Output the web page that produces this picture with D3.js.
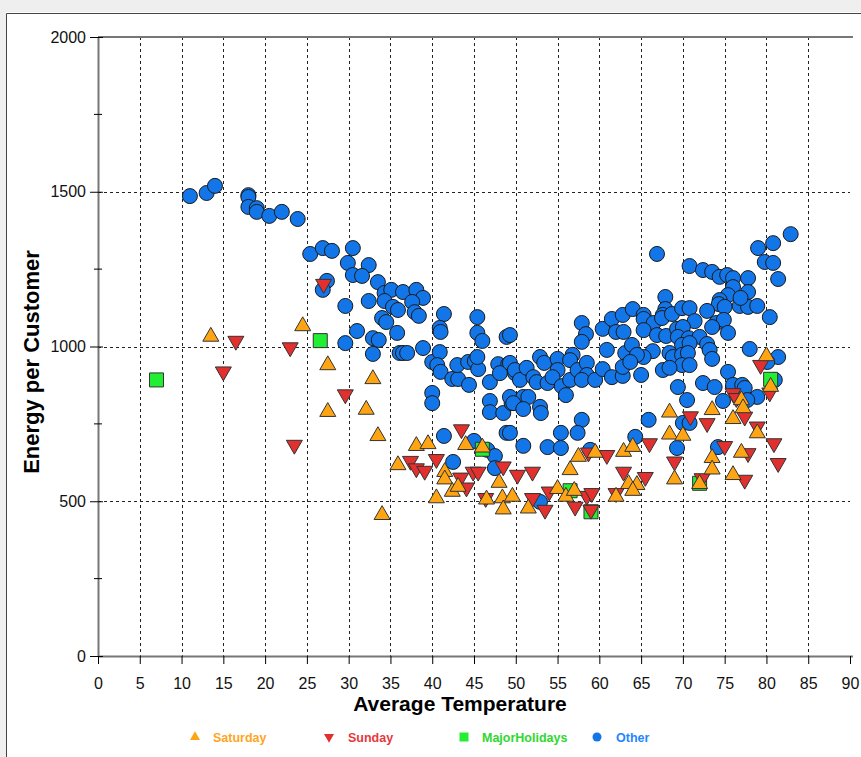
<!DOCTYPE html>
<html>
<head>
<meta charset="utf-8">
<script src="https://cdn.jsdelivr.net/npm/d3@7"></script>
<style>
  html, body { margin: 0; padding: 0; background: #fff; }
  svg { display: block; }
</style>
</head>
<body>
<svg id="chart" width="861" height="757"></svg>
<script>
// ---------------- DATA ----------------
const xTicks = [0,5,10,15,20,25,30,35,40,45,50,55,60,65,70,75,80,85,90];
const yTicks = [0,500,1000,1500,2000];
const yMinorTicks = [250,750,1250,1750];

const satTemp = [13.5,24.5,27.5,32.9,27.5,32.1,33.5,34.0,38.1,39.5,35.9,44.0,46.0,41.5,41.5,42.4,43.1,40.5,48.0,46.5,48.4,48.5,49.6,51.5,56.5,57.5,59.5,55.0,56.0,57.0,62.0,62.9,64.0,63.5,64.5,64.0,68.4,73.5,68.4,70.0,77.0,77.2,76.0,78.9,80.0,80.5,73.5,73.5,69.0,72.0,76.0,77.0];
const satEnergy = [1032,1066,940,895,789,796,711,456,679,685,617,682,674,595,571,531,547,510,560,506,510,474,515,477,601,644,657,540,515,534,515,660,676,556,553,534,787,795,716,712,827,801,766,720,969,870,640,603,571,556,585,657];

const sunTemp = [16.5,23.0,15.0,27.0,29.6,23.5,43.5,37.4,38.1,39.1,40.5,43.4,44.1,44.9,45.5,48.5,50.2,46.4,52.0,60.9,58.7,62.9,54.0,52.0,53.5,57.1,58.5,59.0,59.1,62.0,70.9,72.9,66.0,69.0,65.5,72.3,75.0,77.4,76.0,76.4,77.4,78.9,80.9,81.4,79.3,80.4,77.8];
const sunEnergy = [1018,997,919,1202,845,682,732,630,606,598,636,576,544,595,595,612,585,510,595,649,657,595,531,510,472,482,517,472,526,526,774,752,687,628,578,574,678,569,849,833,773,741,687,623,940,851,655];

const holTemp = [7.0,26.6,46.0,56.5,59.0,72.0,80.5];
const holEnergy = [892,1019,668,534,466,558,894];

const othTemp = [
  11.0,13.0,14.0,18.0,18.0,18.0,19.0,19.0,20.5,22.0,23.9,
  25.4,26.9,28.0,30.5,29.9,32.4,30.5,31.6,33.5,27.4,26.9,29.6,32.4,34.3,35.1,34.3,35.3,34.0,34.5,35.8,31.0,32.9,33.6,29.6,32.9,36.1,
  36.5,38.1,38.9,35.9,37.6,37.9,38.4,41.4,40.9,41.0,45.4,45.4,46.0,48.9,36.5,37.0,38.9,40.0,40.9,40.6,41.0,42.4,43.1,43.0,44.4,44.3,45.1,45.5,45.4,46.9,47.9,49.1,48.1,49.9,40.0,40.0,46.9,46.9,48.5,49.5,41.4,45.0,48.9,42.5,46.6,47.5,47.5,
  49.3,57.9,58.4,57.9,60.4,61.5,62.0,62.9,62.8,64.0,60.9,49.3,49.9,50.5,51.3,52.9,53.4,52.1,52.5,53.8,55.0,55.0,54.4,55.5,56.0,56.5,56.8,56.5,57.4,58.5,58.5,57.9,59.5,60.4,61.5,62.8,63.1,62.8,49.3,50.9,51.5,49.7,50.9,52.9,53.0,57.9,57.4,55.4,49.3,50.9,53.8,55.4,58.9,64.3,52.9,
  66.9,70.8,72.4,73.5,74.4,75.3,76.0,76.0,75.4,77.8,77.8,67.9,67.9,67.6,74.4,74.3,75.0,76.8,77.8,65.3,65.3,66.5,67.5,68.7,69.9,70.8,72.9,71.4,74.0,74.9,73.5,65.3,66.9,68.0,69.3,70.0,69.4,70.7,72.0,75.4,69.9,70.8,72.9,63.9,66.4,65.3,64.5,63.7,68.4,68.8,69.9,70.6,73.2,73.5,69.9,70.8,67.6,68.4,65.0,75.4,69.4,72.4,73.8,76.0,77.1,78.0,
  82.9,80.8,79.0,79.8,80.8,81.4,76.9,78.9,80.4,81.4,80.1,81.0,77.4,78.9,77.7,74.8,70.5,65.9,70.0,70.8,69.3,74.2
];
const othEnergy = [
  1486,1496,1519,1489,1483,1451,1447,1435,1422,1435,1412,
  1299,1318,1309,1318,1270,1263,1231,1228,1208,1212,1183,1131,1147,1173,1183,1147,1128,1092,1079,1044,1050,1027,1021,1011,976,979,
  1176,1183,1157,1118,1144,1111,1099,1105,1060,1047,1095,1044,1018,1031,979,979,995,950,982,940,918,895,895,940,876,950,953,927,966,885,943,943,914,914,850,817,824,788,785,817,711,695,721,627,666,646,607,
  1037,1076,1040,1015,1057,1089,1047,1047,1102,1121,989,947,924,892,931,966,947,901,885,882,960,924,901,872,843,892,973,956,924,947,908,892,892,927,901,905,979,934,837,837,837,817,798,805,785,763,721,721,721,679,675,672,666,708,498,
  1299,1260,1247,1241,1225,1231,1221,1192,1166,1221,1176,1160,1121,1102,1150,1137,1128,1131,1128,1102,1089,1076,1092,1105,1124,1124,1115,1082,1076,1086,1063,1053,1037,1034,1057,1063,1031,1027,1031,1044,1005,1011,1008,1005,985,966,973,950,979,966,973,979,989,960,940,940,924,931,908,918,869,882,869,876,876,992,
  1363,1334,1318,1273,1270,1218,1157,1131,1095,966,950,892,866,837,827,824,827,763,753,753,672,675
];

// ---------------- LAYOUT ----------------
const svg = d3.select("#chart");
const W = 861, H = 757;
const pLeft = 98, pRight = 850, pTop = 37, pBottom = 656;

const x = d3.scaleLinear().domain([0, 90]).range([pLeft, pRight]);
const y = d3.scaleLinear().domain([0, 2000]).range([pBottom, pTop]);

const COL = {
  sat: "#FFA514", sun: "#E2302E", hol: "#22EE33", oth: "#1276E8",
  satTxt: "#FFA51E", sunTxt: "#E6383C", holTxt: "#2FD82F", othTxt: "#1F86FF"
};
const numFont = "'Liberation Sans Narrow','Arial Narrow','Liberation Sans',Arial,sans-serif";
const boldFont = "'Liberation Sans',Arial,sans-serif";

// outer frame
svg.append("rect").attr("x",0).attr("y",0).attr("width",W).attr("height",12).attr("fill","#efefef");
svg.append("rect").attr("x",0).attr("y",0).attr("width",6).attr("height",H).attr("fill","#efefef");
svg.append("path").attr("d",`M6.5,${H} V13.5 H${W}`).attr("fill","none").attr("stroke","#444").attr("stroke-width",1);

// gridlines
const grid = svg.append("g");
grid.selectAll("line.vg").data(xTicks.filter(d => d > 0 && d < 90)).enter().append("line")
  .attr("x1", d => Math.round(x(d)) + 0.5).attr("x2", d => Math.round(x(d)) + 0.5)
  .attr("y1", pTop).attr("y2", pBottom)
  .attr("stroke", "#222").attr("stroke-width", 1).attr("stroke-dasharray", "3,3");
grid.selectAll("line.hg").data(yTicks.filter(d => d > 0 && d < 2000)).enter().append("line")
  .attr("x1", pLeft).attr("x2", pRight)
  .attr("y1", d => Math.round(y(d)) + 0.5).attr("y2", d => Math.round(y(d)) + 0.5)
  .attr("stroke", "#222").attr("stroke-width", 1).attr("stroke-dasharray", "3,3");

// top border line
svg.append("line").attr("x1", pLeft).attr("x2", pRight + 3).attr("y1", pTop).attr("y2", pTop)
  .attr("stroke", "#777").attr("stroke-width", 2);

// X axis
const xAxis = d3.axisBottom(x).tickValues(xTicks).tickSize(8).tickPadding(14).tickFormat(d3.format("d"));
const gx = svg.append("g").attr("transform", `translate(0,${pBottom})`).call(xAxis);
gx.select(".domain").attr("stroke", "#777").attr("stroke-width", 2).attr("d", `M${pLeft},0.5H${pRight + 3}`);
gx.selectAll(".tick line").attr("stroke", "#000");
gx.selectAll(".tick text").attr("font-family", numFont).attr("font-size", 16).attr("fill", "#111");

// Y axis
const yAxis = d3.axisLeft(y).tickValues(yTicks).tickSize(8).tickPadding(6).tickFormat(d3.format("d"));
const gy = svg.append("g").attr("transform", `translate(${pLeft},0)`).call(yAxis);
gy.select(".domain").attr("stroke", "#777").attr("stroke-width", 2).attr("d", `M0.5,${pTop}V${pBottom}`);
gy.selectAll(".tick line").attr("stroke", "#000").attr("x2", 5).attr("x1", -8);
gy.selectAll(".tick text").attr("font-family", numFont).attr("font-size", 16).attr("fill", "#111").attr("x", -12);
gy.selectAll("line.minor").data(yMinorTicks).enter().append("line")
  .attr("x1", -4).attr("x2", 4).attr("y1", d => y(d)).attr("y2", d => y(d))
  .attr("stroke", "#000");

// axis titles
svg.append("text").attr("x", 460).attr("y", 711)
  .attr("text-anchor", "middle").attr("font-family", boldFont).attr("font-weight", "bold")
  .attr("font-size", 21).attr("fill", "#000").text("Average Temperature");
svg.append("text").attr("transform", `translate(39,362) rotate(-90)`)
  .attr("text-anchor", "middle").attr("font-family", boldFont).attr("font-weight", "bold")
  .attr("font-size", 22).attr("fill", "#000").text("Energy per Customer");

// ---------------- MARKERS ----------------
const triArea = 16 * 16 * Math.sqrt(3) / 4;
const triUp = d3.symbol().type(d3.symbolTriangle).size(triArea)();
const sq = d3.symbol().type(d3.symbolSquare).size(14 * 14)();

const plot = svg.append("g");

function zip(a, b) { return a.map((v, i) => ({ t: v, e: b[i] })); }

plot.selectAll("circle.oth").data(zip(othTemp, othEnergy)).enter().append("circle")
  .attr("cx", d => x(d.t)).attr("cy", d => y(d.e)).attr("r", 7.5)
  .attr("fill", COL.oth).attr("stroke", "#1a1a1a").attr("stroke-width", 1);

plot.selectAll("path.hol").data(zip(holTemp, holEnergy)).enter().append("path")
  .attr("d", sq).attr("transform", d => `translate(${x(d.t)},${y(d.e)})`)
  .attr("fill", COL.hol).attr("stroke", "#333").attr("stroke-width", 1);

plot.selectAll("path.sun").data(zip(sunTemp, sunEnergy)).enter().append("path")
  .attr("d", triUp).attr("transform", d => `translate(${x(d.t)},${y(d.e)}) rotate(180)`)
  .attr("fill", COL.sun).attr("stroke", "#333").attr("stroke-width", 1);

plot.selectAll("path.sat").data(zip(satTemp, satEnergy)).enter().append("path")
  .attr("d", triUp).attr("transform", d => `translate(${x(d.t)},${y(d.e)})`)
  .attr("fill", COL.sat).attr("stroke", "#333").attr("stroke-width", 1);

// ---------------- LEGEND ----------------
const legendItems = [
  { label: "Saturday", mx: 195, tx: 213, col: COL.sat, txt: COL.satTxt, kind: "up" },
  { label: "Sunday", mx: 329, tx: 348, col: COL.sun, txt: COL.sunTxt, kind: "down" },
  { label: "MajorHolidays", mx: 464, tx: 482, col: COL.hol, txt: COL.holTxt, kind: "sq" },
  { label: "Other", mx: 597, tx: 616, col: COL.oth, txt: COL.othTxt, kind: "circle" }
];
const ly = 737;
const lg = svg.append("g");
const smallTri = d3.symbol().type(d3.symbolTriangle).size(10 * 10 * Math.sqrt(3) / 4)();
const smallSq = d3.symbol().type(d3.symbolSquare).size(9 * 9)();
legendItems.forEach(it => {
  if (it.kind === "circle") {
    lg.append("circle").attr("cx", it.mx).attr("cy", ly).attr("r", 4.5).attr("fill", it.col);
  } else if (it.kind === "sq") {
    lg.append("path").attr("d", smallSq).attr("transform", `translate(${it.mx},${ly})`).attr("fill", it.col);
  } else {
    lg.append("path").attr("d", smallTri)
      .attr("transform", `translate(${it.mx},${ly}) rotate(${it.kind === "down" ? 180 : 0})`)
      .attr("fill", it.col);
  }
  lg.append("text").attr("x", it.tx).attr("y", ly + 4.5)
    .attr("font-family", boldFont).attr("font-weight", "bold").attr("font-size", 12.5)
    .attr("fill", it.txt).text(it.label);
});
</script>
</body>
</html>
